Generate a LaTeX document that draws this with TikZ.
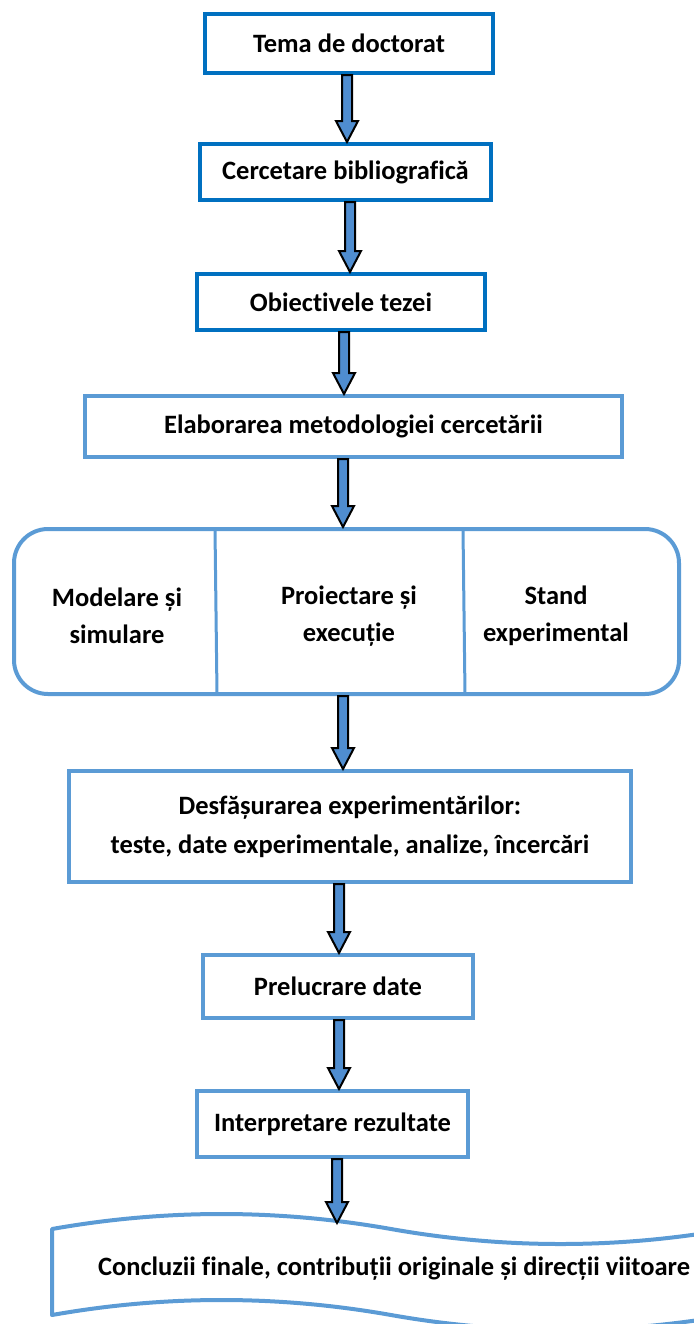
\documentclass[tikz,border=0pt]{standalone}
\usepackage{fontspec}
\setmainfont{Carlito}[Ligatures=NoCommon]
\usetikzlibrary{calc}
\definecolor{dkblue}{HTML}{0070C0}
\definecolor{ltblue}{HTML}{5B9BD5}
\definecolor{arrfill}{HTML}{4F8DD0}
\tikzset{
  boxdark/.style={draw=dkblue, line width=2pt, rectangle, inner sep=0pt, align=center, font=\bfseries\fontsize{13.25}{19}\selectfont},
  boxlight/.style={draw=ltblue, line width=2pt, rectangle, inner sep=0pt, align=center, font=\bfseries\fontsize{13.25}{19.5}\selectfont},
  celltext/.style={align=center, inner sep=0pt, font=\bfseries\fontsize{13.25}{18.5}\selectfont},
  blockarr/.style={fill=arrfill, draw=black, line width=1pt, line join=miter},
}
\newcommand\barrow[3]{%
  \path (#1,0) coordinate (ax);
  \path (ax |- #2.south) coordinate (aT) (ax |- #3) coordinate (aB);
  \draw[blockarr] ($(aT)+(-5,0)$) -- ($(aB)+(-5,-21)$) -- ($(aB)+(-11,-21)$) -- (aB)
     -- ($(aB)+(11,-21)$) -- ($(aB)+(5,-21)$) -- ($(aT)+(5,0)$) -- cycle;}
\begin{document}
\begin{tikzpicture}[x=0.5pt,y=-0.5pt]
\useasboundingbox (0,0) rectangle (694,1324);
\begin{scope}
\clip (0,0) rectangle (694,1324);
% boxes
\node[boxdark, minimum width=144pt, minimum height=29.5pt] (b1) at (349,43.5) {Tema de doctorat};
\node[boxdark, minimum width=145.5pt, minimum height=28pt] (b2) at (345.5,172) {Cercetare bibliografică};
\node[boxdark, minimum width=144pt, minimum height=28pt] (b3) at (341,302) {Obiectivele tezei};
\node[boxlight, minimum width=268.5pt, minimum height=30.5pt] (b4) at (353.5,426.5) {Elaborarea metodologiei cercetării};
% rounded box with three cells
\node[draw=ltblue, line width=2pt, rounded corners=17pt, minimum width=332.5pt, minimum height=82.5pt, inner sep=0pt] (rb) at (346.5,611.5) {};
\draw[ltblue, line width=1.5pt] (215,529) -- (217,694);
\draw[ltblue, line width=1.5pt] (463,529) -- (465,694);
\node[celltext] (c1) at (117,616) {Modelare și\\simulare};
\node[celltext] (c2) at (349,616) {Proiectare și\\execuție};
\node[celltext] (c3) at (556,616) {Stand\\experimental};
\node[boxlight, minimum width=281pt, minimum height=55.5pt] (b5) at (350,826.5) {Desfășurarea experimentărilor:\\teste, date experimentale, analize, încercări};
\node[boxlight, minimum width=135pt, minimum height=31.5pt] (b6) at (338,986.5) {Prelucrare date};
\node[boxlight, minimum width=135.5pt, minimum height=33pt] (b7) at (332.5,1124) {Interpretare rezultate};
% wave (punched tape)
\draw[ltblue, line width=2pt, line join=round]
  (52,1229) .. controls (165,1209) and (278,1209) .. (391,1229)
  .. controls (504,1249) and (617,1249) .. (730,1229)
  -- (730,1315)
  .. controls (617,1335) and (504,1335) .. (391,1315)
  .. controls (278,1295) and (165,1295) .. (52,1315) -- cycle;
\node[celltext] (concl) at (394,1269) {Concluzii finale, contribuții originale și direcții viitoare};
\coordinate (wt) at (337,1223);
% arrows
\barrow{347}{b1}{b2.north}
\barrow{350}{b2}{b3.north}
\barrow{344}{b3}{b4.north}
\barrow{343}{b4}{rb.north}
\barrow{343}{rb}{b5.north}
\barrow{339}{b5}{b6.north}
\barrow{339}{b6}{b7.north}
\barrow{337}{b7}{wt}
\end{scope}
\end{tikzpicture}
\end{document}
